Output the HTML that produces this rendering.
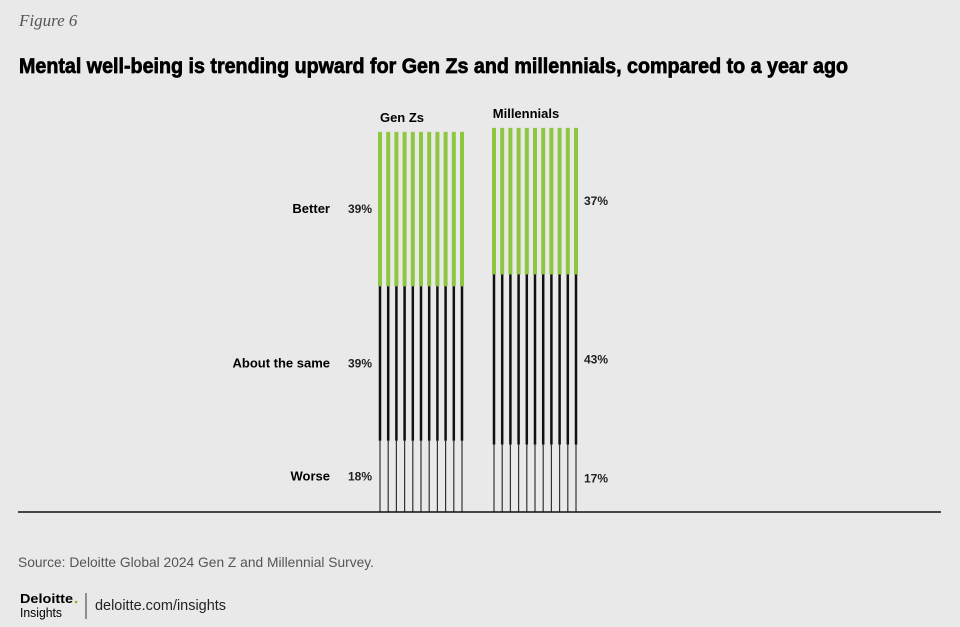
<!DOCTYPE html>
<html><head><meta charset="utf-8"><style>
html,body{margin:0;padding:0;background:#e8e9e8;}
svg{display:block;font-family:"Liberation Sans",sans-serif;}
</style></head><body>
<svg id="chart" width="960" height="627" viewBox="0 0 960 627">
<rect width="960" height="627" fill="#e8e9e8"/>
<text x="19" y="26" font-family="Liberation Serif,serif" font-style="italic" font-size="17" fill="#555">Figure 6</text>
<text x="19" y="73" font-family="Liberation Sans Narrow,Liberation Sans,sans-serif" font-weight="bold" font-size="21" textLength="829" lengthAdjust="spacingAndGlyphs" fill="#000" stroke="#000" stroke-width="0.7">Mental well-being is trending upward for Gen Zs and millennials, compared to a year ago</text>
<g id="marks"></g>
<line x1="18" y1="512" x2="941" y2="512" stroke="#111" stroke-width="1.5"/>
<text x="18" y="567" font-size="14" fill="#555" textLength="356" lengthAdjust="spacingAndGlyphs">Source: Deloitte Global 2024 Gen Z and Millennial Survey.</text>
<text x="20" y="603" font-size="13" font-weight="bold" fill="#000" textLength="53" lengthAdjust="spacingAndGlyphs">Deloitte</text>
<circle cx="76" cy="602" r="1.3" fill="#86bc25"/>
<text x="20" y="617" font-size="13" fill="#000" textLength="42" lengthAdjust="spacingAndGlyphs">Insights</text>
<line x1="86" y1="593" x2="86" y2="619" stroke="#333" stroke-width="1"/>
<a><text x="95" y="610" font-size="15" fill="#222" textLength="131" lengthAdjust="spacingAndGlyphs">deloitte.com/insights</text></a>
</svg>
<script>
const groups = ["Gen Zs", "Millennials"];
const categories = ["Better", "About the same", "Worse"];
const genZ = [39, 39, 18];
const millennials = [37, 43, 17];
const series = [genZ, millennials];

const NS = "http://www.w3.org/2000/svg";
const g = document.getElementById("marks");
const baseY = 512, pxPer = 3.96;
const groupX = [380, 494];
const spacing = 8.2, nLines = 11;
const styles = [{c:"#8dc63f",w:4},{c:"#111",w:2.5},{c:"#333",w:1.2}];
function y(v){ return baseY - v*pxPer; }
function mk(tag, attrs){ const e=document.createElementNS(NS,tag); for(const k in attrs) e.setAttribute(k,attrs[k]); g.appendChild(e); return e; }

series.forEach((vals, gi) => {
  const total = vals.reduce((a,b)=>a+b,0);
  let cum = total;
  const top = y(total);
  const lbl = mk("text",{x:groupX[gi]+(gi===0?22:32), y:top-10, "font-size":13, "font-weight":"bold", "text-anchor":"middle", fill:"#000"});
  lbl.textContent = groups[gi];
  
  
  vals.forEach((v, si) => {
    const y0 = y(cum), y1 = y(cum - v);
    for (let i = 0; i < nLines; i++) {
      const x = groupX[gi] + i*spacing;
      const ln = mk("line",{x1:x, x2:x, y1:y0, y2:y1, stroke:styles[si].c, "stroke-width":styles[si].w});
      
      
    }
    const mid = (y0 + y1)/2 + 4;
    const t = mk("text",{x: gi===0 ? 372 : 584, y: mid, "font-size":12, "font-weight":"bold", fill:"#222", "text-anchor": gi===0 ? "end" : "start"});
    t.textContent = v + "%";
    
    
    if (gi === 0) {
      const c = mk("text",{x:330, y:mid, "font-size":13, "font-weight":"bold", fill:"#000", "text-anchor":"end"});
      c.textContent = categories[si];
      
      
    }
    cum -= v;
  });
});
</script>
</body></html>
